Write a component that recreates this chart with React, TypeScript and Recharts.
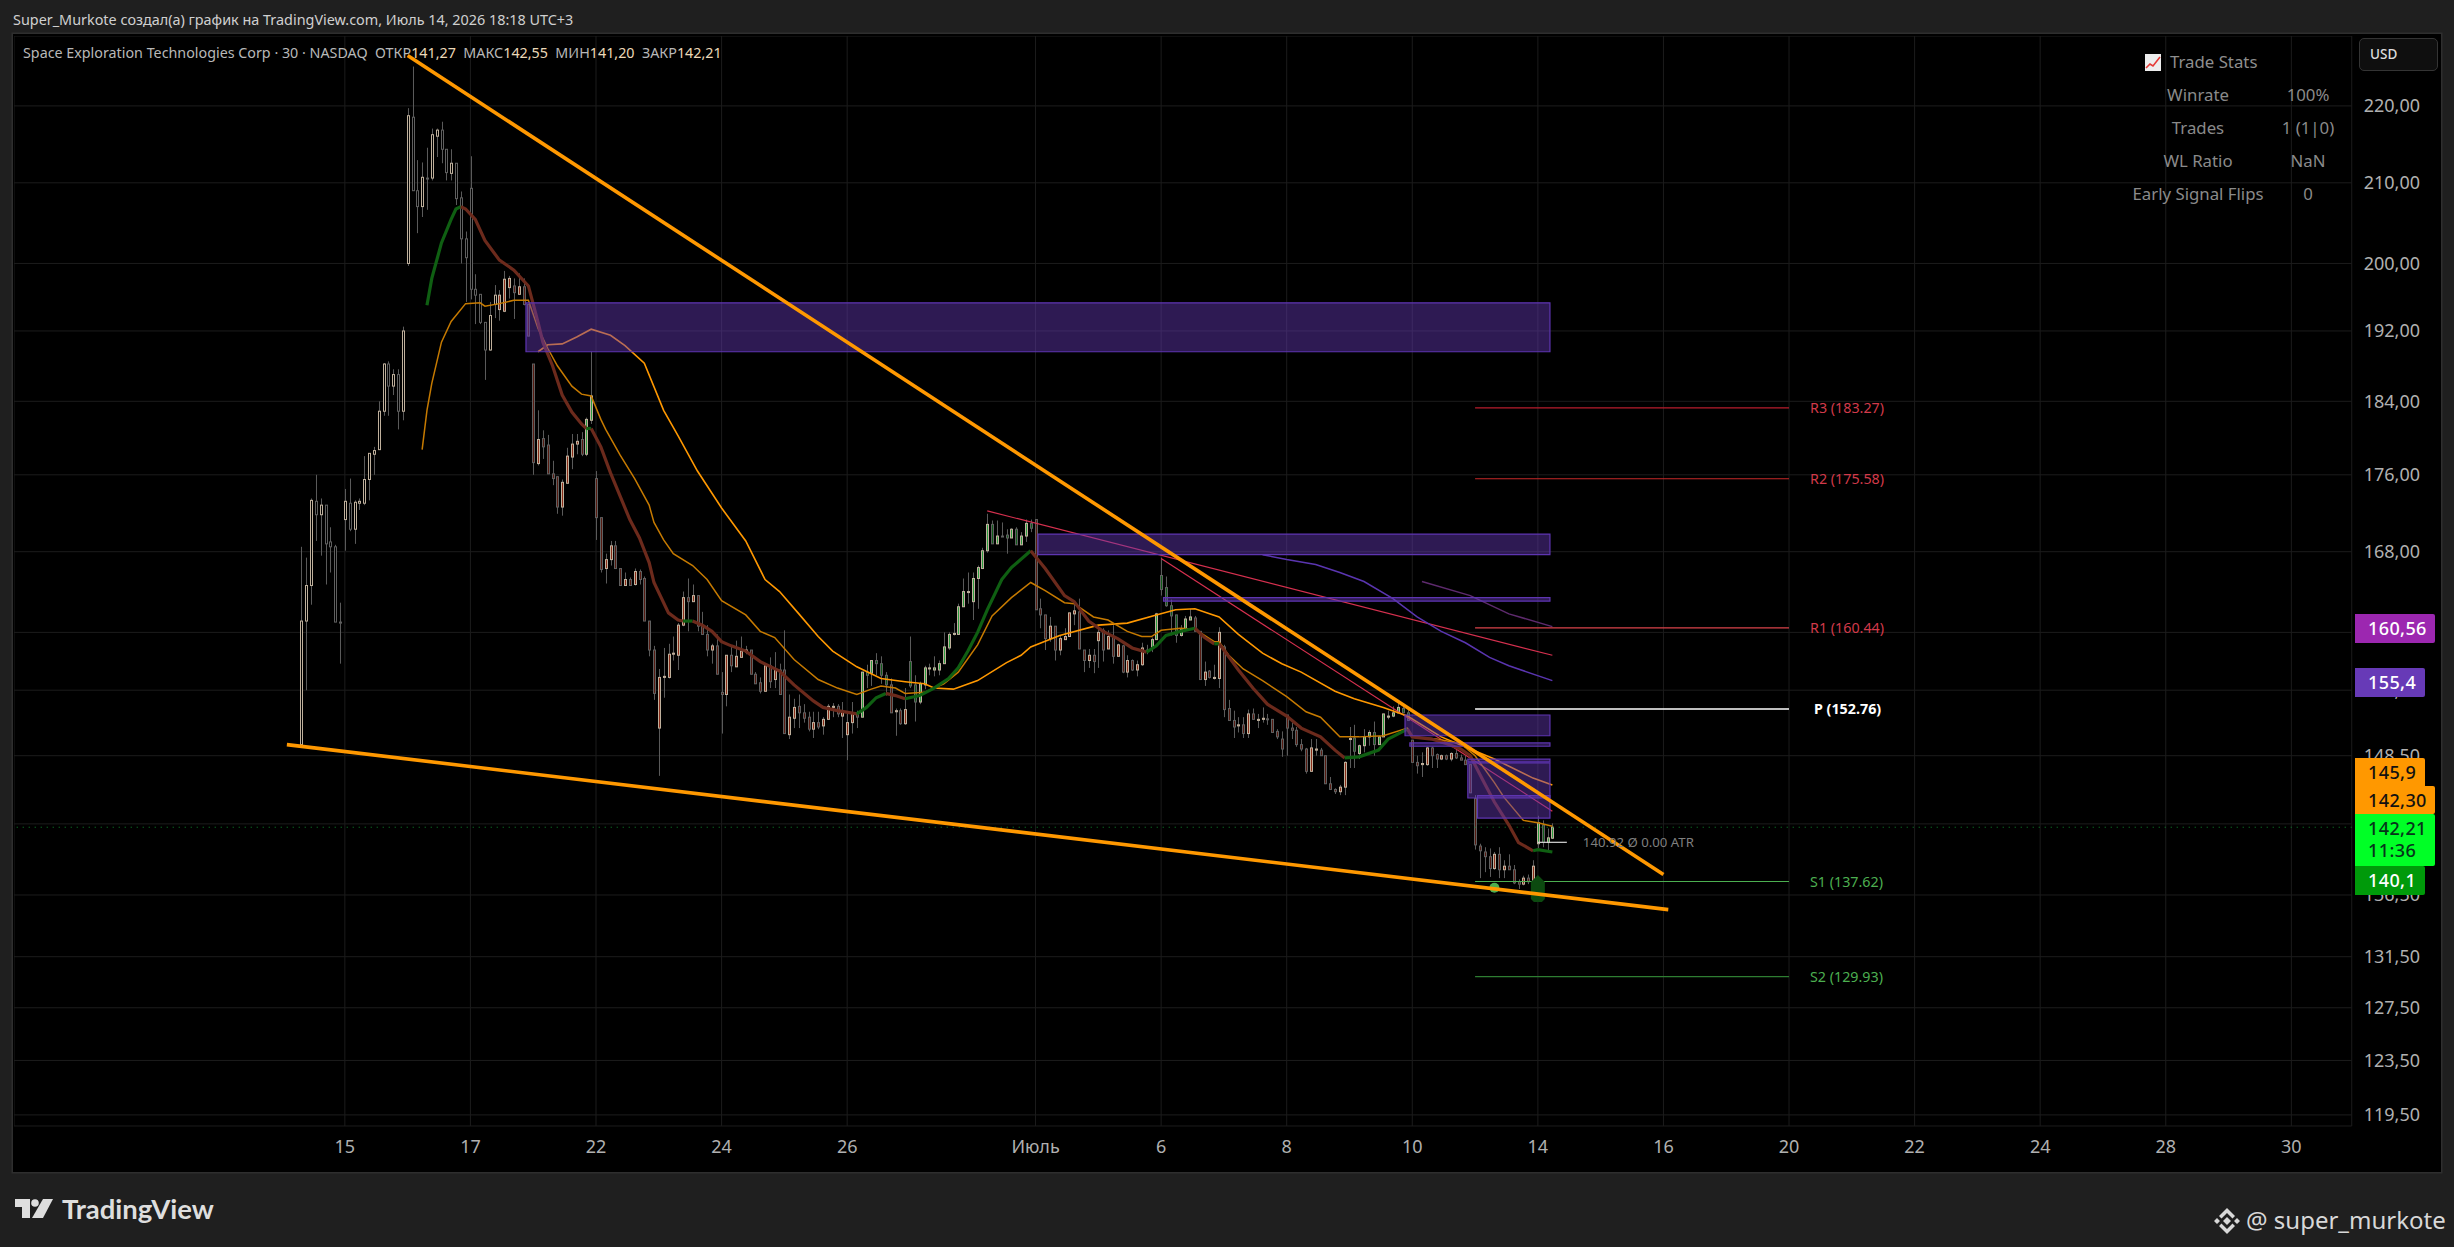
import React from "react";
import { ComposedChart, Bar, Line, XAxis, YAxis, CartesianGrid, ReferenceLine, ReferenceArea, ReferenceDot } from "recharts";

const opens = [149.5,161.1,164.6,173.2,171.8,172.8,169,168.5,161,171.3,173,170.3,173,173,175.5,178.2,178.7,182.9,188.2,185.7,187,182.9,200,218.5,209,207,210.6,210.6,216,216.8,214.3,211.2,212.5,208.1,203,209.3,196.9,196.3,193,189.8,195.1,194.5,194.3,197.1,197.3,196.3,197.2,195.1,188.2,177.2,179.9,179.2,176.1,175.8,172.6,175.1,177.9,179.3,179.8,178.2,181.9,175.6,171.5,166.3,167.2,168.6,166.3,164.6,165.2,164.7,166,165.3,161.1,158.3,151,155.7,155.7,157.9,157.8,160.7,163.4,163,163.6,160.6,159.8,158.3,158.7,154.3,154.1,157.8,156.7,157.6,158.1,158.3,156,155.2,154.4,156.8,155.5,156.4,156.4,150.4,151.9,153,152.4,152,150.9,151.5,151.2,151.8,152.9,153,152.1,150.4,151.5,152.3,152,156.2,156.1,157.3,157,155.9,155,152.5,152.6,151.4,157.2,155,153.4,155,156.5,156.4,156.4,157,158.5,159.8,159.8,162.5,163.9,163,165.3,166.3,168.1,170.8,168.8,169.6,169.7,169.4,170.3,168.7,169.6,170.9,171.3,162.3,161.7,159.4,160.6,158.3,159.3,159.6,161.8,162,158.3,157.3,157.8,159.2,160.2,158.4,159.6,157.7,158.7,156.2,157.3,156.4,156.9,158.3,158.5,159.3,165.6,164.4,162.6,161.7,159.7,160.2,161.2,161.4,160.1,155.5,156.3,155.6,155.6,158.6,152.8,151.7,151.2,151.3,150.5,152.3,151.7,151.8,151.85,151.8,150.7,150,152.2,151,150.8,149.5,149.1,147.1,149,149,148.5,146,145.5,145.3,145.7,150,150.1,148.7,149.4,150.2,150.6,149.5,150.2,152,152.1,152.4,152.8,152.4,149.9,147.9,147.7,147.7,149.2,148.6,148.2,148.5,148.2,148.7,148.3,148.1,147.7,144.7,140.6,140.1,139.7,138.7,139.9,138.6,138.9,138.6,137.6,137.4,137.9,137.6,140.8,142.4,140.9,141.27];
const highs = [168.5,167.4,173.5,176,173.5,172.8,170.5,168.7,162.9,174.5,175.6,173.3,173.5,178,178.3,179,184,188.3,188.5,187.6,187.6,192.5,219.7,225.3,212.9,212.6,214.5,217,217,217.9,214.3,214.3,212.5,208.9,203.9,213.4,198.7,196.3,193,195.4,197.4,196.8,199.1,198.5,198.2,198.8,198.2,195.1,188.2,183,180.8,180.3,177.5,175.8,175.5,178.9,180.4,180.4,180.6,182.2,189.6,176.4,171.5,167.8,169.1,169.1,166.3,165.9,165.4,166.3,166.2,165.5,161.1,158.7,156.5,158.5,158.9,159.6,160.9,164,165.3,164.7,163.6,162,160.7,158.9,159.8,156.2,157.8,158.7,159.2,159.6,158.7,158.3,156.2,155.7,156.9,157.6,158.1,157,160.2,154.1,153.7,154.1,153.2,152.5,152.5,152.5,152,153.2,153.3,153.2,153.4,152.4,153.4,152.6,156.2,156.9,157.3,158,157.7,156.2,155.6,152.8,152.8,154.7,159.6,155.9,155.3,156.8,157,157.7,157.3,160,160,160.9,162.8,165.3,165.9,165.9,166.6,168.4,171.9,171.2,171.2,171,170.3,170.4,170.5,170,171.3,171.3,171.3,163.3,161.7,161.5,160.6,159.7,160.4,161.9,162.8,163.3,158.3,158.4,158.4,160.7,160.4,160.2,160.7,158.9,158.8,157.8,157.4,157.3,159,158.8,159.5,161.9,167.4,165.5,163.2,161.7,160.7,161.6,162.3,161.6,160.1,157.2,156.4,156.9,160.5,158.8,153.6,152.6,152,152,152.7,152.8,152.3,152.9,152.3,151.8,150.9,150.7,152.2,151.5,151.1,150,149.2,150,150,149.2,148.5,146.6,145.6,145.9,148,151.1,151.3,149.5,150.9,150.8,151.6,150.3,152.3,152.6,153,153.3,153,152.9,149.9,148.5,148.8,149.3,149.3,148.7,148.6,148.6,148.8,149,148.6,148.5,147.7,145,140.8,140.5,140.4,140.1,140.5,139.4,139.9,139,137.8,138.1,138.2,139.4,143.2,142.8,142.1,142.55];
const lows = [149.5,154.5,162.7,169.1,167.6,164.7,165.9,161,157,168.1,170.1,168.8,172.3,172.8,173.3,176,178.7,182.4,182.4,184.7,180.9,181.9,199.7,209,203.7,205.7,206.6,210.3,213.3,212.5,210.3,210.3,207.2,200,195.4,195.7,192.8,192.8,186.4,189.7,193.5,193.2,194.2,195.8,193.4,196.3,195,191.4,176,177,177.7,176.1,174.9,171.9,171.7,175.1,176.6,178.2,178,178,181.5,169.2,165.9,164.8,166.6,166.3,164.6,164.6,164.6,164.6,164.7,161.1,157.7,153.6,146.7,153.8,155.6,157.3,156.4,160.6,160.1,163,160.1,159.8,157.7,157,156,150.5,153,156.2,156.7,157.6,157.9,156,155.1,154.2,154.4,154.7,154.7,154.1,150.5,150,151,151,151.5,150.7,150.1,150.9,150.4,151.8,152,152,150.1,148.1,150.5,151,152,154.7,154.9,155.9,155.1,154,152.4,150.3,151.3,151.3,154.7,151.6,153.2,154.6,155.9,155.8,155.9,157,158.3,159.7,159.8,162.5,162.8,161.2,162.3,166.3,167.9,168.8,168.8,169.5,167.8,169.4,168.7,168.7,169,170,162.2,160.4,158.3,159.1,157.3,157.8,159.3,159.6,160.7,158.4,156.2,156.6,156.1,156.6,157.2,158.4,157,157.7,156.1,155.7,156.3,155.8,156.8,157.9,158.1,159.3,163.6,162.5,159.7,159,159.6,160.2,161.2,160.1,155.5,154.9,155.6,155.5,154.7,152,151.7,150.1,150.6,150.1,150.1,151.8,151,151.5,151.3,150.6,150,148.4,148.5,150,149.3,148.9,146.9,147.1,148.5,148.5,146,145.5,145.1,145,145,147.4,147.4,148.2,148.8,149.4,148.5,149.5,150.2,151.8,152,152.4,152.4,151.7,147.9,146.9,146.6,147.6,147.4,147.4,148.1,148.1,148,148.2,148.1,147.7,145.2,140.3,137.9,138.4,138,138.6,137.9,137.9,138.6,137.4,137,137.3,137.4,137.6,140.4,140.5,140.2,141.2];
const closes = [161.1,164.6,173.3,171.8,172.8,168.8,168.5,161,160.9,173.2,170.3,173.1,173.2,175.5,178.3,178.6,182.9,188.2,185.7,187,182.9,192,218.7,209,207,210.7,210.5,216.2,216.8,214.3,211.3,212.5,208,203,200.7,196.9,196.2,193,189.8,193.8,196.2,196.2,198.1,198.2,196.5,197.2,195.1,191.4,177.3,179.8,179,176.1,175.6,172.6,175.2,178,179.3,179.6,178.2,182,184.6,171.5,166.2,167.2,168.6,166.3,164.6,165.2,164.6,166,165.2,161.1,158.3,154.2,155.7,155.8,157.9,158,160.7,163.4,163,163.6,160.6,159.8,158.3,158.7,156,154.1,157.8,156.8,157.7,158.2,158.3,156,155.1,154.4,156.8,155.3,156.4,154.1,150.5,152,152.9,152.4,151.9,150.9,151.5,151.1,151.8,153,153,152.3,152.6,151.5,152.4,152,156.2,155.9,157.3,157,155.9,155,152.4,152.6,151.4,152.7,154.9,153.4,155.1,156.6,156.6,156.6,157,158.6,159.8,159.9,162.5,164,164,165.3,166.4,168.1,170.8,168.8,169.6,169.5,169.4,170.3,168.7,169.6,170.9,170.4,162.2,161.7,159.4,160.6,158.3,159.4,159.6,161.9,162.1,158.4,157.3,157.8,157.2,160,158.3,159.6,157.7,158.8,156.2,157.3,156.4,156.9,158.5,158.2,159.3,161.8,164.2,162.6,161.6,159.7,160.3,161.3,161.5,160.1,155.5,156.2,155.7,155.7,160,152.7,151.7,151.1,151.3,150.5,152.3,151.8,151.8,151.9,151.8,150.6,150.2,149.1,151,150.8,149.5,149.1,147.1,149.2,149.1,148.5,146,145.5,145.3,145.7,147.9,150.05,148.9,149.4,150.2,150.6,149.5,150.2,152.3,152.1,152.4,152.9,152.4,151.7,147.9,147.6,147.8,149.2,148.5,148.2,148.5,148.2,148.7,148.3,148.1,147.7,145.2,140.7,140.2,139.7,138.7,139.9,138.6,138.9,138.6,137.5,137.4,137.9,137.6,138.9,142.6,140.9,141.3,142.21];
const toneStarts = [0, 41, 59, 61, 116, 122, 126, 152, 176, 185, 217, 230, 256];
const toneKinds = ["none", "red", "green", "red", "green", "red", "green", "red", "green", "red", "green", "red", "green"];

const fastSegments = [
  { tone: "green", knots: [[26,195],[27,198.2],[29,202.5],[31,205.4],[32,206.7],[33,207]] },
  { tone: "red", knots: [[33,207],[34,206.7],[36,205.4],[38,202.8],[41,200.4],[44,199.2],[47,197.3],[49,193],[50,190.7],[52,188],[54,184.7],[56,182.8],[58,181.5],[59,181]] },
  { tone: "green", knots: [[59,181],[60,181]] },
  { tone: "red", knots: [[60,181],[62,179],[64,176.2],[68,171.3],[70,169.4],[72,166.9],[73,164.9],[76,161.9],[78,161.2],[79,161.1]] },
  { tone: "green", knots: [[79,161.1],[81,161.1]] },
  { tone: "red", knots: [[81,161.1],[83,160.7],[85,160.1],[87,159.1],[89,158.7],[92,158.2],[95,157.2],[99,156.3],[102,155],[106,153.5],[108,152.9],[111,152.6],[115,152.3]] },
  { tone: "green", knots: [[115,152.3],[117,152.9],[119,153.8],[121,154.2]] },
  { tone: "red", knots: [[121,154.2],[123,154],[125,153.7]] },
  { tone: "green", knots: [[125,153.7],[128,154],[131,154.7],[134,155.6],[136,156.6],[138,158.2],[140,160],[142,162.2],[145,165.2],[147,166.4],[151,168.1]] },
  { tone: "red", knots: [[151,168.1],[154,166.3],[158,163.6],[160,163],[163,161.1],[166,160.1],[169,159.4],[172,158.5],[175,158.1]] },
  { tone: "green", knots: [[175,158.1],[177,158.7],[179,159.7],[182,160.1],[185,160.4]] },
  { tone: "red", knots: [[185,160.4],[187,159.5],[189,158.9]] },
  { tone: "green", knots: [[189,158.9],[190,158.9]] },
  { tone: "red", knots: [[190,158.9],[191,158.3],[194,156.4],[197,154.7],[200,153.2],[204,152.1],[207,151],[211,150.2],[214,149],[216,148.3]] },
  { tone: "green", knots: [[216,148.3],[219,148.4],[223,149],[225,150],[229,150.9]] },
  { tone: "red", knots: [[229,150.9],[230,150.2],[234,150],[237,149.6],[240,149.1],[242,148.5],[245,146],[247,144.4],[250,142.4],[252,140.9],[255,140.2]] },
  { tone: "green", knots: [[255,140.2],[256,140.3],[259,140.1]] },
];
const midKnots = [[25,178.7],[26,183],[27,186],[29,190.7],[31,193.1],[34,195.2],[37,195.3],[38,194.9],[41,195.2],[44,195.6],[47,195.6],[49,192.3],[51,190],[53,188],[56,185.7],[58,184.8],[60,184.6],[62,182],[63,180.9],[66,178.1],[69,175.6],[72,172.8],[73,171],[75,169.2],[77,167.8],[81,166.6],[84,165.2],[87,163.1],[92,161.7],[95,160.1],[98,159.5],[102,157.4],[107,155.5],[111,154.7],[115,154.1],[118,154.6],[120,154.9],[123,154.7],[125,154.2],[129,154.3],[133,155.1],[136,156.2],[140,158.8],[143,161.6],[147,163.4],[151,164.9],[154,164.1],[158,162.9],[160,162.8],[164,161.5],[167,161.2],[171,160.1],[174,159.6],[176,159.6],[178,160.2],[182,160.4],[185,160.3],[189,159.1],[190,159.1],[192,157.8],[195,156.5],[199,155.4],[204,153.9],[208,152.5],[211,152],[215,150.2],[219,150.2],[224,150.3],[229,151],[230,150.2],[235,150],[240,149.6],[243,148.5],[247,146.1],[249,144.8],[253,142.8],[256,142.6],[259,142.3]];
const slowKnots = [[49,189.6],[51,190.4],[54,190.5],[57,191.3],[60,192.2],[64,191.5],[67,190.3],[71,188.3],[75,183],[78,180.2],[82,176.4],[87,172.5],[92,169.1],[96,165.2],[99,164],[103,161.8],[107,159.6],[110,158.2],[115,156.7],[120,155.6],[125,155.3],[129,155.1],[131,154.7],[135,154.6],[140,155.4],[146,157.1],[149,157.8],[151,158.6],[157,159.7],[165,160.7],[171,160.9],[177,161.7],[181,162.2],[185,162.3],[190,161.5],[194,159.8],[199,158],[203,157],[207,156.2],[214,154.4],[218,153.7],[224,152.9],[229,152.1],[236,150.2],[242,149.1],[247,148.2],[255,146.5],[259,145.9]];
const violetKnots = [[199,167.7],[204,167.2],[210,166.7],[215,165.9],[220,165],[226,163.3],[231,161.5],[236,160.1],[241,159],[246,157.6],[250,156.8],[259,155.4]];
const magentaKnots = [[232,165],[242,163.6],[250,161.8],[259,160.56]];

const zoneStarts = [47, 153, 179, 229, 230, 242, 242, 244];
const zoneTops = [195.3, 169.8, 163.4, 152.2, 149.65, 148.2, 147.85, 144.95];
const zoneBottoms = [189.6, 167.7, 163.05, 150.3, 149.35, 147.95, 144.75, 143];

const pivotNames = ["R3", "R2", "R1", "P", "S1", "S2"];
const pivotValues = [183.27, 175.58, 160.44, 152.76, 137.62, 129.93];
const pivotColors = ["#b71c2c", "#c62828", "#d9434a", "#ffffff", "#4caf50", "#2e7d32"];
const pivotTexts = ["#d23a4a", "#d23a4a", "#d23a4a", "#ffffff", "#4caf50", "#4caf50"];

const priceTicks = [220, 210, 200, 192, 184, 176, 168, 160, 154.5, 148.5, 142.5, 136.5, 131.5, 127.5, 123.5, 119.5];
const timeTickBars = [9, 35, 61, 87, 113, 152, 178, 204, 230, 256, 282, 308, 334, 360, 386, 412];
const timeTickLabels = ["15", "17", "22", "24", "26", "Июль", "6", "8", "10", "14", "16", "20", "22", "24", "28", "30"];

const statNames = ["Winrate", "Trades", "WL Ratio", "Early Signal Flips"];
const statValues = ["100%", "1 (1|0)", "NaN", "0"];

const PAD = 59;
const SLOTS = 484;
const BAND = 4.83;
const Y_MIN = 118.7;
const Y_MAX = 229.5;
const AXIS_W = 88;
const slot = (i: number) => i + PAD;
const toneOf = (i: number) => {
  let t = "none";
  toneStarts.forEach((s, k) => { if (i >= s) t = toneKinds[k]; });
  return t;
};

const rows = Array.from({ length: SLOTS }, (_, s) => {
  const i = s - PAD;
  const r: any = { slot: s };
  if (i >= 0 && i < opens.length) {
    r.o = opens[i]; r.h = highs[i]; r.l = lows[i]; r.c = closes[i]; r.tone = toneOf(i);
    r.range = [lows[i], highs[i]];
  }
  fastSegments.forEach((seg, k) => seg.knots.forEach(([x, v]) => { if (x === i) r["f" + k] = v; }));
  midKnots.forEach(([x, v]) => { if (x === i) r.mid = v; });
  slowKnots.forEach(([x, v]) => { if (x === i) r.slow = v; });
  violetKnots.forEach(([x, v]) => { if (x === i) r.violet = v; });
  magentaKnots.forEach(([x, v]) => { if (x === i) r.magenta = v; });
  return r;
});

const Candle = (p: any) => {
  const d = p.payload;
  if (!d || d.o === undefined || !Number.isFinite(p.y) || !Number.isFinite(p.height)) return null;
  const span = Math.log(d.h / d.l) || 1;
  const at = (v: number) => p.y + (p.height * Math.log(d.h / v)) / span;
  const cx = Math.round(p.x + p.width / 2) + 0.5;
  const up = d.c >= d.o;
  const top = at(Math.max(d.o, d.c));
  const bottom = at(Math.min(d.o, d.c));
  const edge = up ? "#bfb09c" : "#5f5f5f";
  const fills: any = {
    none: "#000000",
    red: up ? "#8a2c18" : "#561a10",
    green: up ? "#2a9c3f" : "#0f5c18",
  };
  return (
    <g>
      <line x1={cx} x2={cx} y1={p.y} y2={p.y + p.height} stroke="#5c5c5c" strokeWidth={1} />
      <rect x={cx - 1} y={top} width={2} height={Math.max(bottom - top, 1)} fill={fills[d.tone]} stroke={edge} strokeWidth={1} />
    </g>
  );
};

const Marker = (p: any) => (
  <path d={`M${p.cx - 7} ${p.cy - 7}L${p.cx} ${p.cy - 14}L${p.cx + 7} ${p.cy - 7}V${p.cy + 10}L${p.cx + 4} ${p.cy + 13}H${p.cx - 4}L${p.cx - 7} ${p.cy + 10}Z`} fill="#0c4a10" />
);

const T = ({ x, y, c, s, w, center, children, font }: any) => (
  <div style={{ position: "absolute", left: x, top: y, transform: center ? "translate(-50%,-50%)" : "translateY(-50%)", color: c, fontSize: s, fontWeight: w || 400, fontFamily: font || "'Noto Sans', sans-serif", whiteSpace: "pre", lineHeight: 1 }}>{children}</div>
);

const Tag = ({ top, h, w, bg, c, text, sub }: any) => (
  <div style={{ position: "absolute", left: 2355, top, width: w, height: h, background: bg, color: c, borderRadius: "0 2px 2px 0", fontFamily: "'Noto Sans', sans-serif", fontSize: 18, fontWeight: 500, letterSpacing: 0.4 }}>
    <div style={{ position: "absolute", left: 13, top: 14, transform: "translateY(-50%)" }}>{text}</div>
    {sub ? <div style={{ position: "absolute", left: 13, top: 36, transform: "translateY(-50%)" }}>{sub}</div> : null}
  </div>
);

export default function App() {
  return (
    <div style={{ position: "absolute", left: 0, top: 0, width: 2454, height: 1247, background: "#1f1f1f", overflow: "hidden" }}>
      <div style={{ position: "absolute", left: 13, top: 34, width: 2428, height: 1138, background: "#000", boxShadow: "0 0 0 1.5px #2e2e2e" }} />
      <div style={{ position: "absolute", left: 14, top: 36.3 }}>
        <ComposedChart width={SLOTS * BAND + AXIS_W} height={1135} data={rows} margin={{ top: 0, right: 0, bottom: 0, left: 0 }}>
          <CartesianGrid stroke="#1c1c1c" strokeWidth={1} />
          <XAxis dataKey="slot" type="category" ticks={timeTickBars.map(slot)} interval={0} height={45} axisLine={false} tickLine={false} tickMargin={8}
            tickFormatter={(v: number) => timeTickLabels[timeTickBars.indexOf(v - PAD)]}
            tick={{ fill: "#b0b0b0", fontSize: 18, fontFamily: "'Noto Sans', sans-serif" }} />
          <YAxis orientation="right" scale="log" type="number" domain={[Y_MIN, Y_MAX]} allowDataOverflow ticks={priceTicks} interval={0} width={AXIS_W} axisLine={false} tickLine={false} tickMargin={6}
            tickFormatter={(v: number) => v.toFixed(2).replace(".", ",")}
            tick={{ fill: "#b0b0b0", fontSize: 18, fontFamily: "'Noto Sans', sans-serif" }} />
          <ReferenceLine y={142.21} stroke="#0f8a2e" strokeDasharray="1 5" strokeWidth={1} />
          <ReferenceDot x={slot(256)} y={137} r={8} shape={Marker} ifOverflow="visible" />
          <Bar dataKey="range" isAnimationActive={false} shape={Candle} />
          <ReferenceLine segment={[{ x: slot(142), y: 172.2 }, { x: slot(259), y: 157.8 }]} stroke="#d6304f" strokeWidth={1.2} />
          <ReferenceLine segment={[{ x: slot(178), y: 167.3 }, { x: slot(259), y: 143.6 }]} stroke="#d6304f" strokeWidth={1.2} />
          <Line dataKey="violet" stroke="#5a35b0" strokeWidth={1.5} dot={false} activeDot={false} connectNulls isAnimationActive={false} />
          <Line dataKey="magenta" stroke="#5e2a6e" strokeWidth={1.5} dot={false} activeDot={false} connectNulls isAnimationActive={false} />
          <Line dataKey="slow" stroke="#ff9800" strokeWidth={1.6} dot={false} activeDot={false} connectNulls isAnimationActive={false} />
          <Line dataKey="mid" stroke="#c67a00" strokeWidth={1.5} dot={false} activeDot={false} connectNulls isAnimationActive={false} />
          {fastSegments.map((seg, k) => (
            <Line key={k} dataKey={"f" + k} stroke={seg.tone === "red" ? "#6c2a1c" : "#0f5f12"} strokeWidth={3.2} dot={false} activeDot={false} connectNulls isAnimationActive={false} />
          ))}
          {zoneStarts.map((s, k) => (
            <ReferenceArea key={k} x1={slot(s)} x2={slot(258)} y1={zoneBottoms[k]} y2={zoneTops[k]} fill="#673ab7" fillOpacity={0.45} stroke="#5e35b1" strokeWidth={1.2} zIndex={900} />
          ))}
          {pivotNames.map((n, k) => (
            <ReferenceLine key={n} segment={[{ x: slot(243), y: pivotValues[k] }, { x: slot(308), y: pivotValues[k] }]} stroke={pivotColors[k]} strokeWidth={n === "P" ? 1.6 : 1.2}
              label={{ value: `${n} (${pivotValues[k].toFixed(2)})`, position: "right", offset: n === "P" ? 25 : 21, fill: pivotTexts[k], fontSize: 14.3, fontWeight: n === "P" ? 700 : 400, fontFamily: "'Noto Sans', sans-serif" }} />
          ))}
          <ReferenceLine segment={[{ x: slot(256), y: 140.92 }, { x: slot(262), y: 140.92 }]} stroke="#d8d8d8" strokeWidth={1.2}
            label={{ value: "140.92 Ø 0.00 ATR", position: "right", offset: 16, fill: "#7f7f7f", fontSize: 13.2, fontFamily: "'Noto Sans', sans-serif" }} />
          <ReferenceDot x={slot(247)} y={137.1} r={5} fill="#4caf50" stroke="none" />
          <ReferenceLine segment={[{ x: slot(22), y: 226.8 }, { x: slot(282), y: 138.2 }]} stroke="#ff9800" strokeWidth={3.6} zIndex={950} />
          <ReferenceLine segment={[{ x: slot(-3), y: 149.5 }, { x: slot(283), y: 135.3 }]} stroke="#ff9800" strokeWidth={3.6} zIndex={950} />
        </ComposedChart>
      </div>

      <T x={13} y={20} c="#d0d0d0" s={14.4}>Super_Murkote создал(а) график на TradingView.com, Июль 14, 2026 18:18 UTC+3</T>
      <T x={23} y={53} c="#b8b8b8" s={14.3}>Space Exploration Technologies Corp · 30 · NASDAQ  ОТКР<span style={{ color: "#ecd9b8" }}>141,27</span>  МАКС<span style={{ color: "#ecd9b8" }}>142,55</span>  МИН<span style={{ color: "#ecd9b8" }}>141,20</span>  ЗАКР<span style={{ color: "#ecd9b8" }}>142,21</span></T>

      <svg style={{ position: "absolute", left: 2145, top: 54 }} width={16} height={17}>
        <rect width={16} height={17} fill="#ededed" />
        <path d="M1 14L5 10L8 12L15 3" stroke="#e53935" strokeWidth={1.6} fill="none" />
      </svg>
      <T x={2170} y={62} c="#8e8e8e" s={16.8}>Trade Stats</T>
      {statNames.map((n, k) => (
        <React.Fragment key={n}>
          <T x={2198} y={95 + 33 * k} c="#8a8a8a" s={16.8} center>{n}</T>
          <T x={2308} y={95 + 33 * k} c="#8a8a8a" s={16.8} center>{statValues[k]}</T>
        </React.Fragment>
      ))}

      <div style={{ position: "absolute", left: 2359, top: 38, width: 79, height: 33, boxSizing: "border-box", border: "1px solid #343434", borderRadius: 5, background: "#0f0f0f" }} />
      <T x={2370} y={55} c="#dddddd" s={13.5} w={500}>USD</T>

      <Tag top={614} h={29} w={80} bg="#9c27b0" c="#fff" text="160,56" />
      <Tag top={668} h={29} w={70} bg="#673ab7" c="#fff" text="155,4" />
      <Tag top={758} h={30} w={70} bg="#ff9800" c="#111" text="145,9" />
      <Tag top={786} h={28} w={80} bg="#ff9800" c="#111" text="142,30" />
      <Tag top={814} h={52} w={80} bg="#00ff26" c="#06341a" text="142,21" sub="11:36" />
      <Tag top={866} h={29} w={70} bg="#009a0a" c="#fff" text="140,1" />

      <svg style={{ position: "absolute", left: 15, top: 1199 }} width={38} height={20}>
        <path d="M0 0H15V19H7V8H0Z" fill="#dedede" />
        <circle cx={20} cy={4} r={3.8} fill="#dedede" />
        <path d="M28 0H38L28 19H17Z" fill="#dedede" />
      </svg>
      <T x={62} y={1209} c="#dedede" s={27.5} w={700} font="Lato, sans-serif">TradingView</T>
      <svg style={{ position: "absolute", left: 2213, top: 1207 }} width={28} height={28}>
        <path d="M14 1L22 9L19.5 11.5L14 6L8.5 11.5L6 9ZM14 27L22 19L19.5 16.5L14 22L8.5 16.5L6 19ZM14 10L18 14L14 18L10 14ZM4 11L7 14L4 17L1 14ZM24 11L27 14L24 17L21 14Z" fill="#d8d8d8" />
      </svg>
      <T x={2246} y={1220} c="#d8d8d8" s={24}>@ super_murkote</T>
    </div>
  );
}
